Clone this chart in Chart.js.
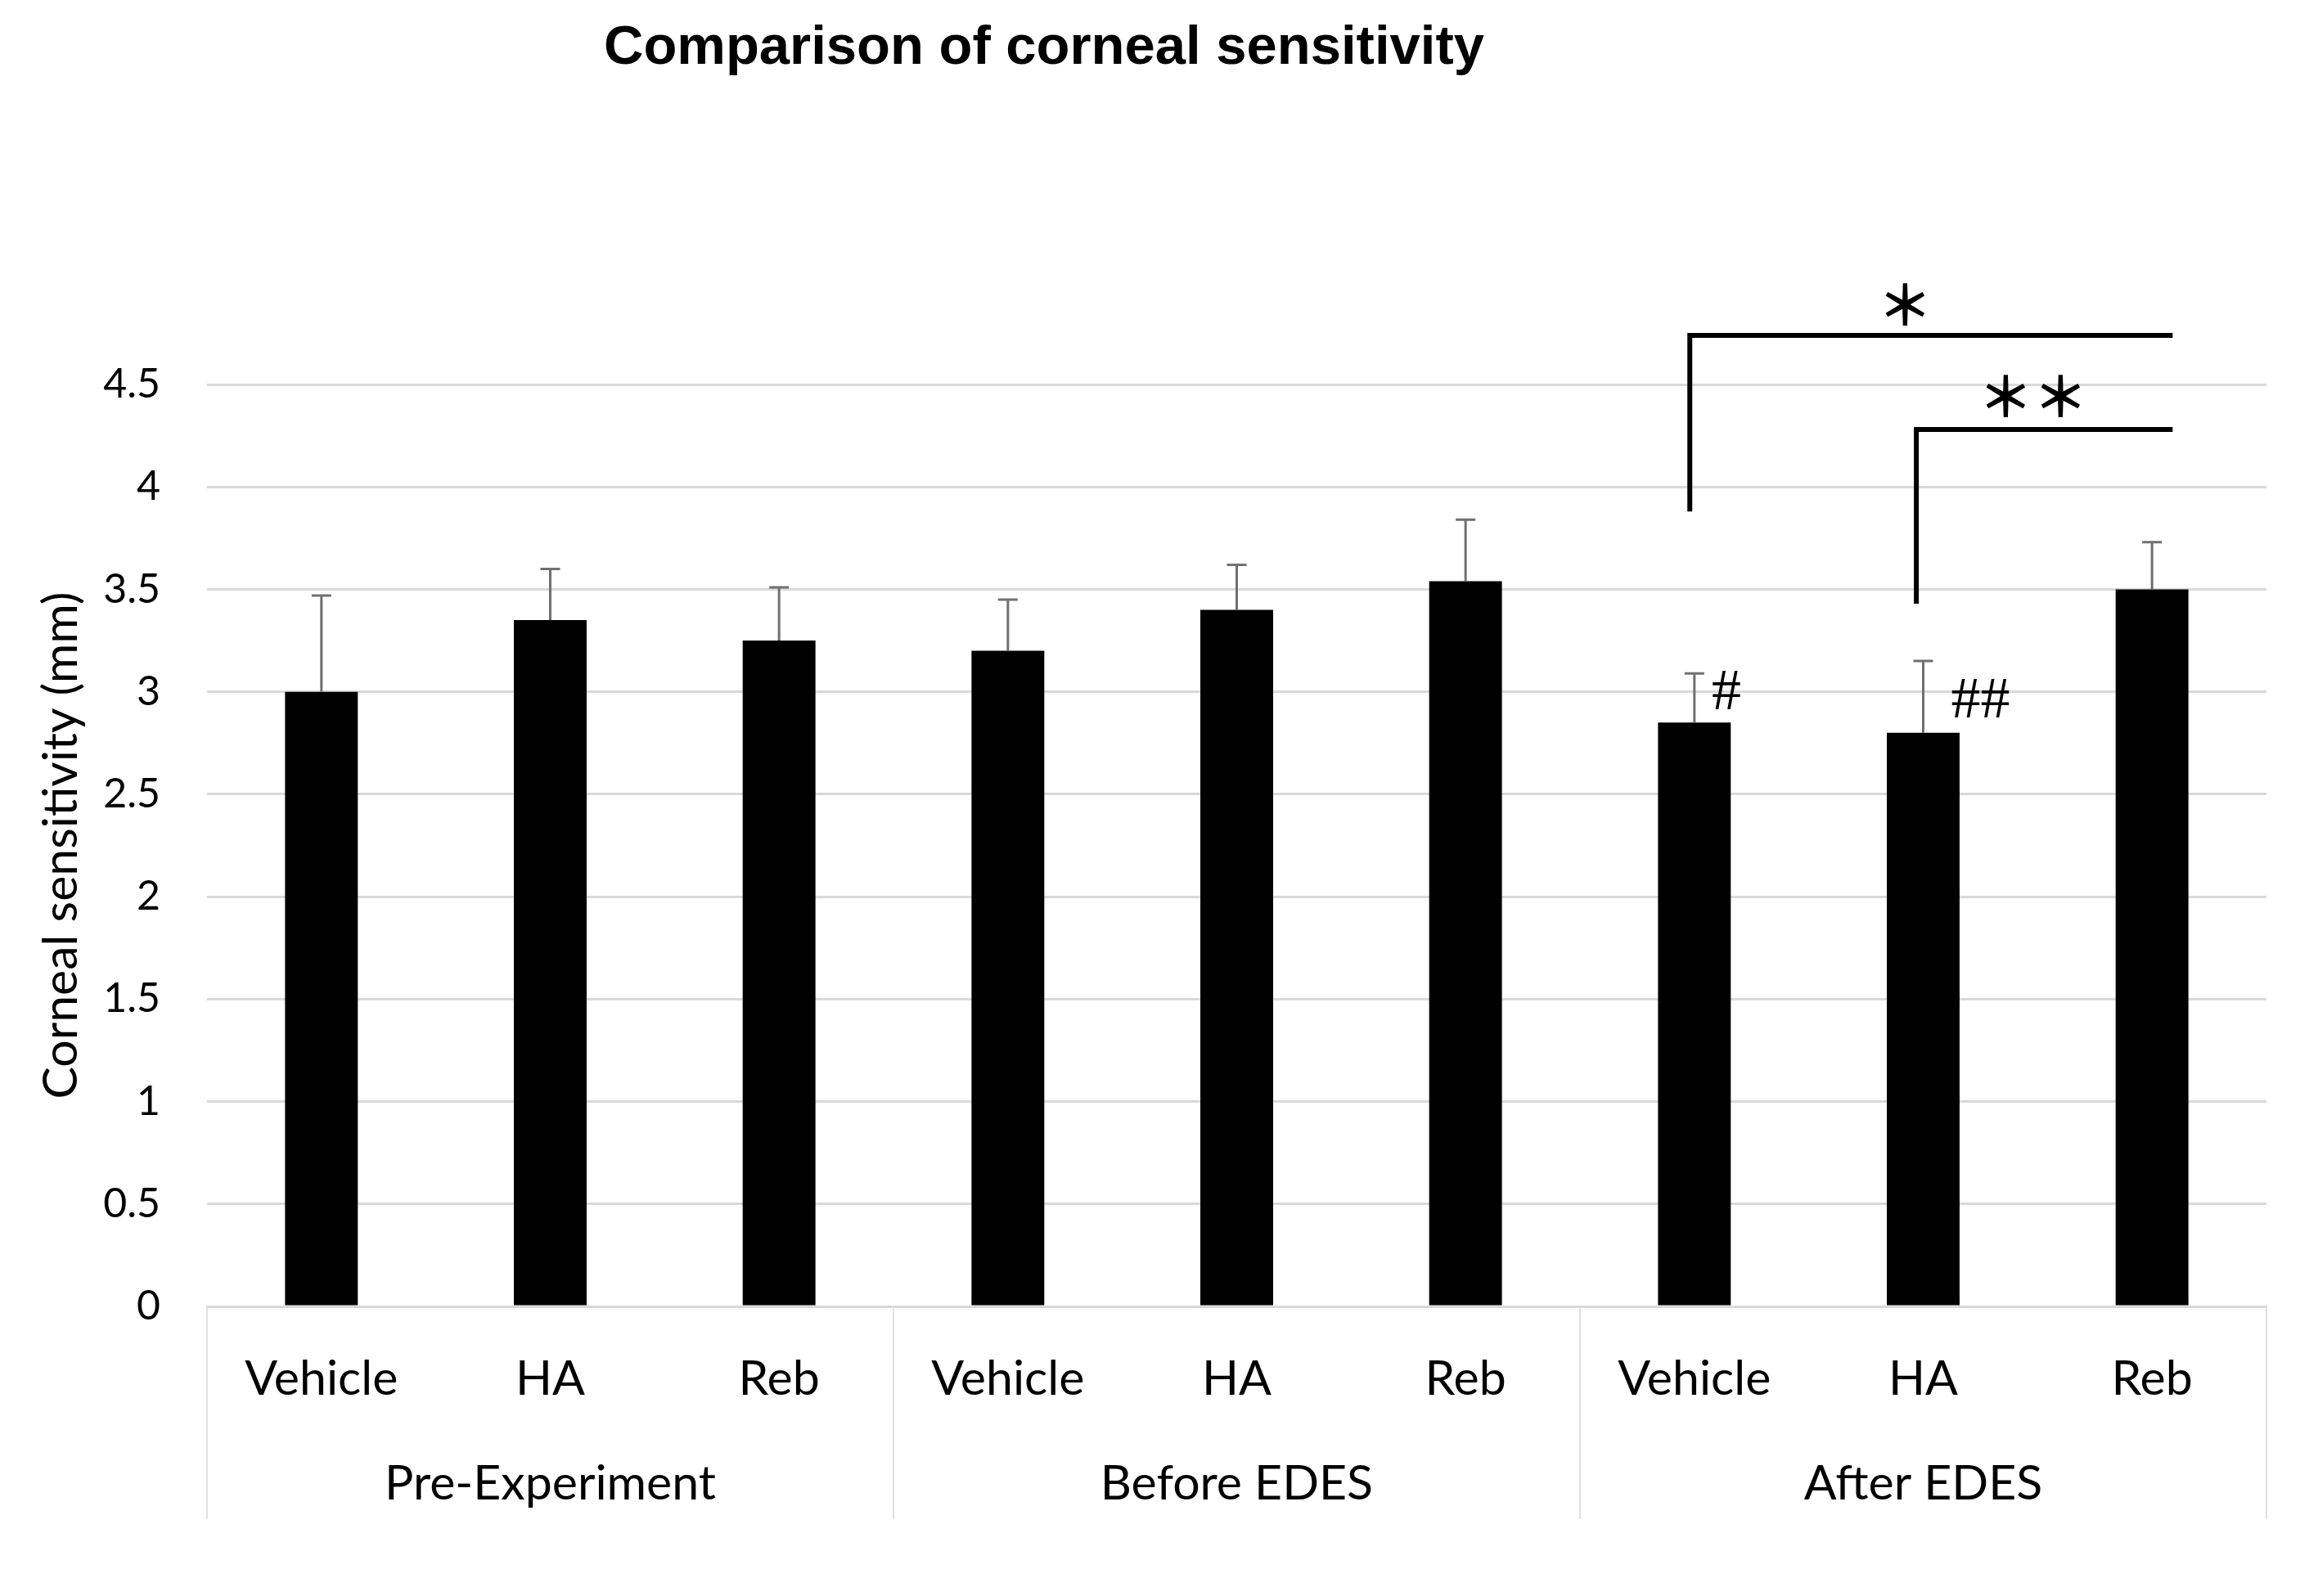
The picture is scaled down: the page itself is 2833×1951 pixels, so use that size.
<!DOCTYPE html>
<html lang="en">
<head>
    <meta charset="UTF-8">
    <title>Comparison of corneal sensitivity</title>
    <script src="https://cdn.jsdelivr.net/npm/chart.js"></script>
    <style>
        body {
            margin: 0;
            background-color: #ffffff;
        }
        #chart-container {
            width: 2833px;
            height: 1951px;
        }
    </style>
</head>
<body>
    <div id="chart-container">
        <canvas id="sensitivityChart"></canvas>
    </div>
    <script>
        // data
        const treatments = ['Vehicle', 'HA', 'Reb', 'Vehicle', 'HA', 'Reb', 'Vehicle', 'HA', 'Reb'];
        const groups = ['Pre-Experiment', 'Before EDES', 'After EDES'];
        const meanValues = [3.00, 3.35, 3.25, 3.20, 3.40, 3.54, 2.85, 2.80, 3.50];
        const errorValues = [0.47, 0.25, 0.26, 0.25, 0.22, 0.30, 0.24, 0.35, 0.23];
        const yTicks = [0, 0.5, 1, 1.5, 2, 2.5, 3, 3.5, 4, 4.5];

        // significance brackets: from/to in category units, level and foot in mm
        const bracketFrom = [5.98, 6.97];
        const bracketTo = [8.09, 8.09];
        const bracketLevel = [4.74, 4.28];
        const bracketFoot = [3.88, 3.43];
        const bracketMarks = ['＊', '＊＊'];
        const bracketMarkX = [6.92, 7.48];
        const bracketMarkY = [4.89, 4.44];
        // marks next to bars (versus pre-experiment)
        const hashMarks = ['#', '##'];
        const hashX = [6.14, 7.25];
        const hashY = [2.99, 2.95];

        const FONT = 'Lato, "Open Sans", sans-serif';
        const chartTitle = 'Comparison of corneal sensitivity';

        const errorBars = {
            id: 'errorBars',
            afterDatasetsDraw(chart) {
                const ctx = chart.ctx;
                const y = chart.scales.y;
                const meta = chart.getDatasetMeta(0);
                ctx.save();
                ctx.strokeStyle = '#707070';
                ctx.lineWidth = 3;
                meta.data.forEach((bar, i) => {
                    const top = y.getPixelForValue(meanValues[i] + errorValues[i]);
                    const base = y.getPixelForValue(meanValues[i]);
                    ctx.beginPath();
                    ctx.moveTo(bar.x, base);
                    ctx.lineTo(bar.x, top);
                    ctx.moveTo(bar.x - 12, top);
                    ctx.lineTo(bar.x + 12, top);
                    ctx.stroke();
                });
                ctx.restore();
            }
        };

        const annotations = {
            id: 'annotations',
            afterDraw(chart) {
                const ctx = chart.ctx;
                const x = chart.scales.x;
                const y = chart.scales.y;
                const area = chart.chartArea;
                ctx.save();

                // title, sits left of centre in the original figure
                ctx.fillStyle = '#000000';
                ctx.textAlign = 'center';
                ctx.textBaseline = 'middle';
                ctx.font = 'bold 67px "Liberation Sans", Arial, sans-serif';
                ctx.fillText(chartTitle, 1276, 60);

                // group separators and group labels under the category labels
                ctx.strokeStyle = '#e0e0e0';
                ctx.lineWidth = 2;
                const bottom = area.bottom + 260;
                for (let g = 0; g <= groups.length; g++) {
                    let px;
                    if (g === 0) px = area.left;
                    else if (g === groups.length) px = area.right;
                    else px = (x.getPixelForValue(g * 3 - 1) + x.getPixelForValue(g * 3)) / 2;
                    ctx.beginPath();
                    ctx.moveTo(px, area.bottom);
                    ctx.lineTo(px, bottom);
                    ctx.stroke();
                }
                ctx.font = '59px ' + FONT;
                groups.forEach((name, g) => {
                    ctx.fillText(name, x.getPixelForValue(g * 3 + 1), area.bottom + 217);
                });

                // brackets
                const step = x.getPixelForValue(1) - x.getPixelForValue(0);
                const x0px = x.getPixelForValue(0);
                ctx.strokeStyle = '#000000';
                ctx.lineWidth = 6;
                bracketFrom.forEach((from, i) => {
                    const x0 = x0px + step * from;
                    const x1 = x0px + step * bracketTo[i];
                    ctx.beginPath();
                    ctx.moveTo(x0, y.getPixelForValue(bracketFoot[i]));
                    ctx.lineTo(x0, y.getPixelForValue(bracketLevel[i]));
                    ctx.lineTo(x1, y.getPixelForValue(bracketLevel[i]));
                    ctx.stroke();
                });

                ctx.font = 'bold 67px "Noto Sans CJK JP", sans-serif';
                bracketMarks.forEach((m, i) => {
                    ctx.fillText(m, x0px + step * bracketMarkX[i], y.getPixelForValue(bracketMarkY[i]));
                });
                ctx.font = '72px "Liberation Serif", serif';
                hashMarks.forEach((m, i) => {
                    ctx.fillText(m, x0px + step * hashX[i], y.getPixelForValue(hashY[i]));
                });
                ctx.restore();
            }
        };

        const ctx = document.getElementById('sensitivityChart').getContext('2d');
        const sensitivityChart = new Chart(ctx, {
            type: 'bar',
            data: {
                labels: treatments,
                datasets: [{
                    label: 'Corneal sensitivity (mm)',
                    data: meanValues,
                    backgroundColor: '#000000',
                    borderWidth: 0,
                    barPercentage: 0.318,
                    categoryPercentage: 1.0
                }]
            },
            options: {
                responsive: true,
                maintainAspectRatio: false,
                devicePixelRatio: 1,
                animation: false,
                layout: {
                    padding: { left: 0, right: 63, top: 470, bottom: 0 }
                },
                scales: {
                    x: {
                        grid: { display: false },
                        border: { display: true, color: '#d9d9d9', width: 3 },
                        ticks: {
                            color: '#000000',
                            font: { family: FONT, size: 59 },
                            padding: 46,
                            maxRotation: 0,
                            autoSkip: false
                        },
                        afterFit(scale) { scale.height = 354; }
                    },
                    y: {
                        min: 0,
                        max: 4.5,
                        afterBuildTicks(scale) {
                            scale.ticks = yTicks.map(v => ({ value: v }));
                        },
                        grid: { color: '#d9d9d9', lineWidth: 3, drawTicks: false },
                        border: { display: false },
                        ticks: {
                            color: '#000000',
                            font: { family: FONT, size: 50 },
                            padding: 57,
                            callback: (value) => String(value)
                        },
                        title: {
                            display: true,
                            text: 'Corneal sensitivity (mm)',
                            color: '#000000',
                            font: { family: FONT, size: 59 },
                            padding: { top: 40, bottom: 0 }
                        },
                        afterFit(scale) { scale.width = 253; }
                    }
                },
                plugins: {
                    legend: { display: false },
                    tooltip: { enabled: false },
                    title: { display: false }
                }
            },
            plugins: [errorBars, annotations]
        });
    </script>
</body>
</html>
